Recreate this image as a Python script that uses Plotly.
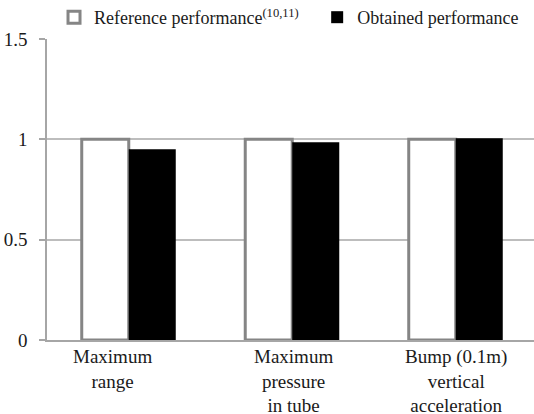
import plotly.graph_objects as go

categories = ["Maximum range", "Maximum pressure in tube", "Bump (0.1m) vertical acceleration"]
category_labels = ["Maximum<br>range", "Maximum<br>pressure<br>in tube", "Bump (0.1m)<br>vertical<br>acceleration"]
reference_values = [1.0, 1.0, 1.0]
obtained_values = [0.95, 0.985, 1.005]
y_ticks = [0, 0.5, 1, 1.5]
y_tick_labels = ["0", "0.5", "1", "1.5"]

FONT = "Liberation Serif"
TEXT = "#1a1a1a"

fig = go.Figure()
fig.add_trace(go.Bar(
    x=categories, y=reference_values,
    name="Reference performance<sup>(10,11)</sup>\u00a0\u00a0\u00a0",
    marker=dict(color="white", line=dict(color="#858585", width=3)),
))
fig.add_trace(go.Bar(
    x=categories, y=obtained_values,
    name="Obtained performance",
    marker=dict(color="black", line=dict(color="black", width=0)),
))

# category labels below the axis (first one sits slightly left of its group)
shifts = [-16, 1, 0]
for cat, lab, dx in zip(categories, category_labels, shifts):
    fig.add_annotation(
        x=cat, y=0, xref="x", yref="paper", yanchor="top", xanchor="center",
        text=lab, showarrow=False, xshift=dx, yshift=-4,
        font=dict(family=FONT, size=19, color=TEXT), align="center",
    )

fig.update_layout(
    width=534, height=414,
    margin=dict(l=47, r=0, t=39, b=74, autoexpand=False),
    paper_bgcolor="white", plot_bgcolor="white",
    barmode="group", bargap=0.425, bargroupgap=0,
    font=dict(family=FONT, size=19, color=TEXT),
    showlegend=True,
    legend=dict(
        orientation="h", x=0.0144, y=1.01, xanchor="left", yanchor="bottom",
        font=dict(family=FONT, size=18, color=TEXT),
        bgcolor="rgba(0,0,0,0)", itemclick=False, tracegroupgap=0,
    ),
    xaxis=dict(
        type="category", range=[-0.5, 2.4786],
        showticklabels=False, ticks="", showgrid=False,
        showline=True, linecolor="#a6a6a6", linewidth=1.5,
        zeroline=False,
    ),
    yaxis=dict(
        range=[0, 1.5], tickvals=y_ticks, ticktext=y_tick_labels,
        showgrid=True, gridcolor="#bdbdbd", gridwidth=1.5,
        showline=True, linecolor="#a6a6a6", linewidth=1.5,
        ticks="outside", ticklen=6, tickcolor="#a6a6a6", tickwidth=1.5,
        ticklabelstandoff=8,
        zeroline=False,
        tickfont=dict(family=FONT, size=19, color=TEXT),
    ),
)

fig.write_html("out.html")
